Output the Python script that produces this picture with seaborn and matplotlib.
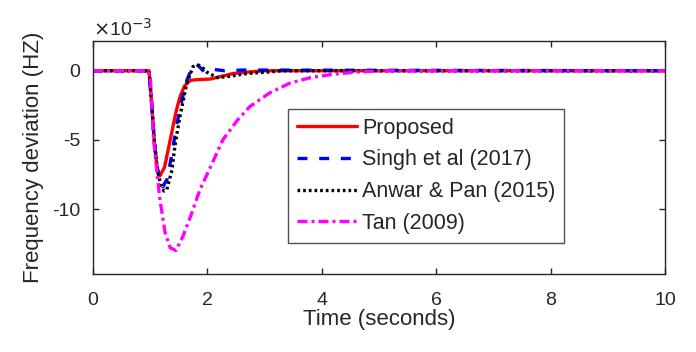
import numpy as np
import pandas as pd
import matplotlib
matplotlib.use("Agg")
import matplotlib.pyplot as plt
import seaborn as sns

sns.set_style("white")
plt.rcParams['font.family'] = ['Liberation Sans', 'DejaVu Sans']

# Data (frequency deviation in units of 1e-3 Hz)
t_prop = [0, 0.98, 1.03, 1.07, 1.12, 1.17, 1.25, 1.35, 1.45, 1.52, 1.60, 1.70, 1.80, 2.05, 2.25, 2.45, 2.7, 3.0, 10]
v_prop = [0, 0, -2.6, -5.0, -7.0, -7.6, -7.0, -5.0, -3.0, -1.9, -1.1, -0.7, -0.65, -0.6, -0.4, -0.2, -0.1, 0, 0]

t_singh = [0, 0.98, 1.03, 1.07, 1.12, 1.17, 1.22, 1.30, 1.38, 1.46, 1.55, 1.64, 1.72, 1.80, 1.88, 1.95, 2.1, 2.3, 2.6, 10]
v_singh = [0, 0, -2.6, -5.0, -7.0, -8.0, -8.4, -7.8, -6.0, -4.0, -2.2, -0.7, 0.1, 0.5, 0.2, -0.1, 0.1, 0.0, 0.05, 0]

t_anwar = [0, 0.98, 1.03, 1.07, 1.12, 1.18, 1.24, 1.29, 1.38, 1.43, 1.52, 1.64, 1.75, 1.85, 1.92, 1.99, 2.17, 2.4, 2.69, 3.04, 3.3, 10]
v_anwar = [0, 0, -2.6, -5.0, -7.0, -8.2, -8.7, -8.6, -7.2, -5.5, -3.3, -0.9, 0.3, 0.4, 0.2, -0.1, -0.5, -0.4, -0.2, -0.1, 0, 0]

t_tan = [0, 0.96, 1.0, 1.03, 1.06, 1.12, 1.17, 1.26, 1.35, 1.45, 1.57, 1.70, 1.87, 2.05, 2.27, 2.52, 2.74, 3.09, 3.44, 3.8, 4.2, 4.6, 5.0, 10]
v_tan = [0, 0, -0.4, -2.6, -5.0, -7.4, -9.3, -11.7, -12.8, -13.0, -12.0, -10.6, -8.6, -7.0, -5.0, -3.6, -2.6, -1.6, -0.9, -0.5, -0.25, -0.1, 0, 0]

labels = ["Proposed", "Singh et al (2017)", "Anwar & Pan (2015)", "Tan (2009)"]
x_ticks = [0, 2, 4, 6, 8, 10]
y_ticks = [0, -5, -10]

series = [
    (t_prop, v_prop, labels[0], "#ff0000", "-"),
    (t_singh, v_singh, labels[1], "#0000ff", (0, (3, 3.5))),
    (t_anwar, v_anwar, labels[2], "#000000", (0, (0.8, 0.9))),
    (t_tan, v_tan, labels[3], "#ff00ff", (0, (3, 1.2, 0.9, 1.2))),
]

fig = plt.figure(figsize=(6.96, 3.52), dpi=100)
ax = fig.add_axes([0.1336, 0.2216, 0.8219, 0.6619])

for t, v, lab, col, ls in series:
    df = pd.DataFrame({"t": t, "v": v})
    sns.lineplot(data=df, x="t", y="v", ax=ax, color=col, linestyle=ls,
                 linewidth=2.4, label=lab, estimator=None, sort=False)

ax.set_xlim(0, 10)
ax.set_ylim(-14.7, 2.15)
ax.set_xticks(x_ticks)
ax.set_yticks(y_ticks)
ax.set_xticklabels([str(x) for x in x_ticks], fontsize=14, color="#262626")
ax.set_yticklabels([str(y) for y in y_ticks], fontsize=14, color="#262626")
ax.tick_params(direction="in", length=4, width=1, top=True, right=True,
               bottom=True, left=True)
ax.tick_params(axis="x", pad=13)
ax.tick_params(axis="y", pad=9)
for sp in ax.spines.values():
    sp.set_visible(True)
    sp.set_color("#262626")
    sp.set_linewidth(1)

ax.set_xlabel("Time (seconds)", fontsize=16, color="#262626", labelpad=0)
ax.set_ylabel("Frequency deviation (HZ)", fontsize=16, color="#262626", labelpad=6)
ax.text(0.0, 1.005, r"$\times$10$^{-3}$", transform=ax.transAxes, fontsize=14,
        color="#262626", ha="left", va="bottom")

leg = ax.legend(loc="upper left", bbox_to_anchor=(0.341, 0.708), fontsize=15.5,
                frameon=True, fancybox=False, edgecolor="#262626",
                handlelength=2.8, labelspacing=0.5, borderpad=0.4,
                handletextpad=0.25, borderaxespad=0)
leg.get_frame().set_linewidth(1)
for txt in leg.get_texts():
    txt.set_color("#262626")

fig.savefig("out.png", dpi=100, facecolor="white")
